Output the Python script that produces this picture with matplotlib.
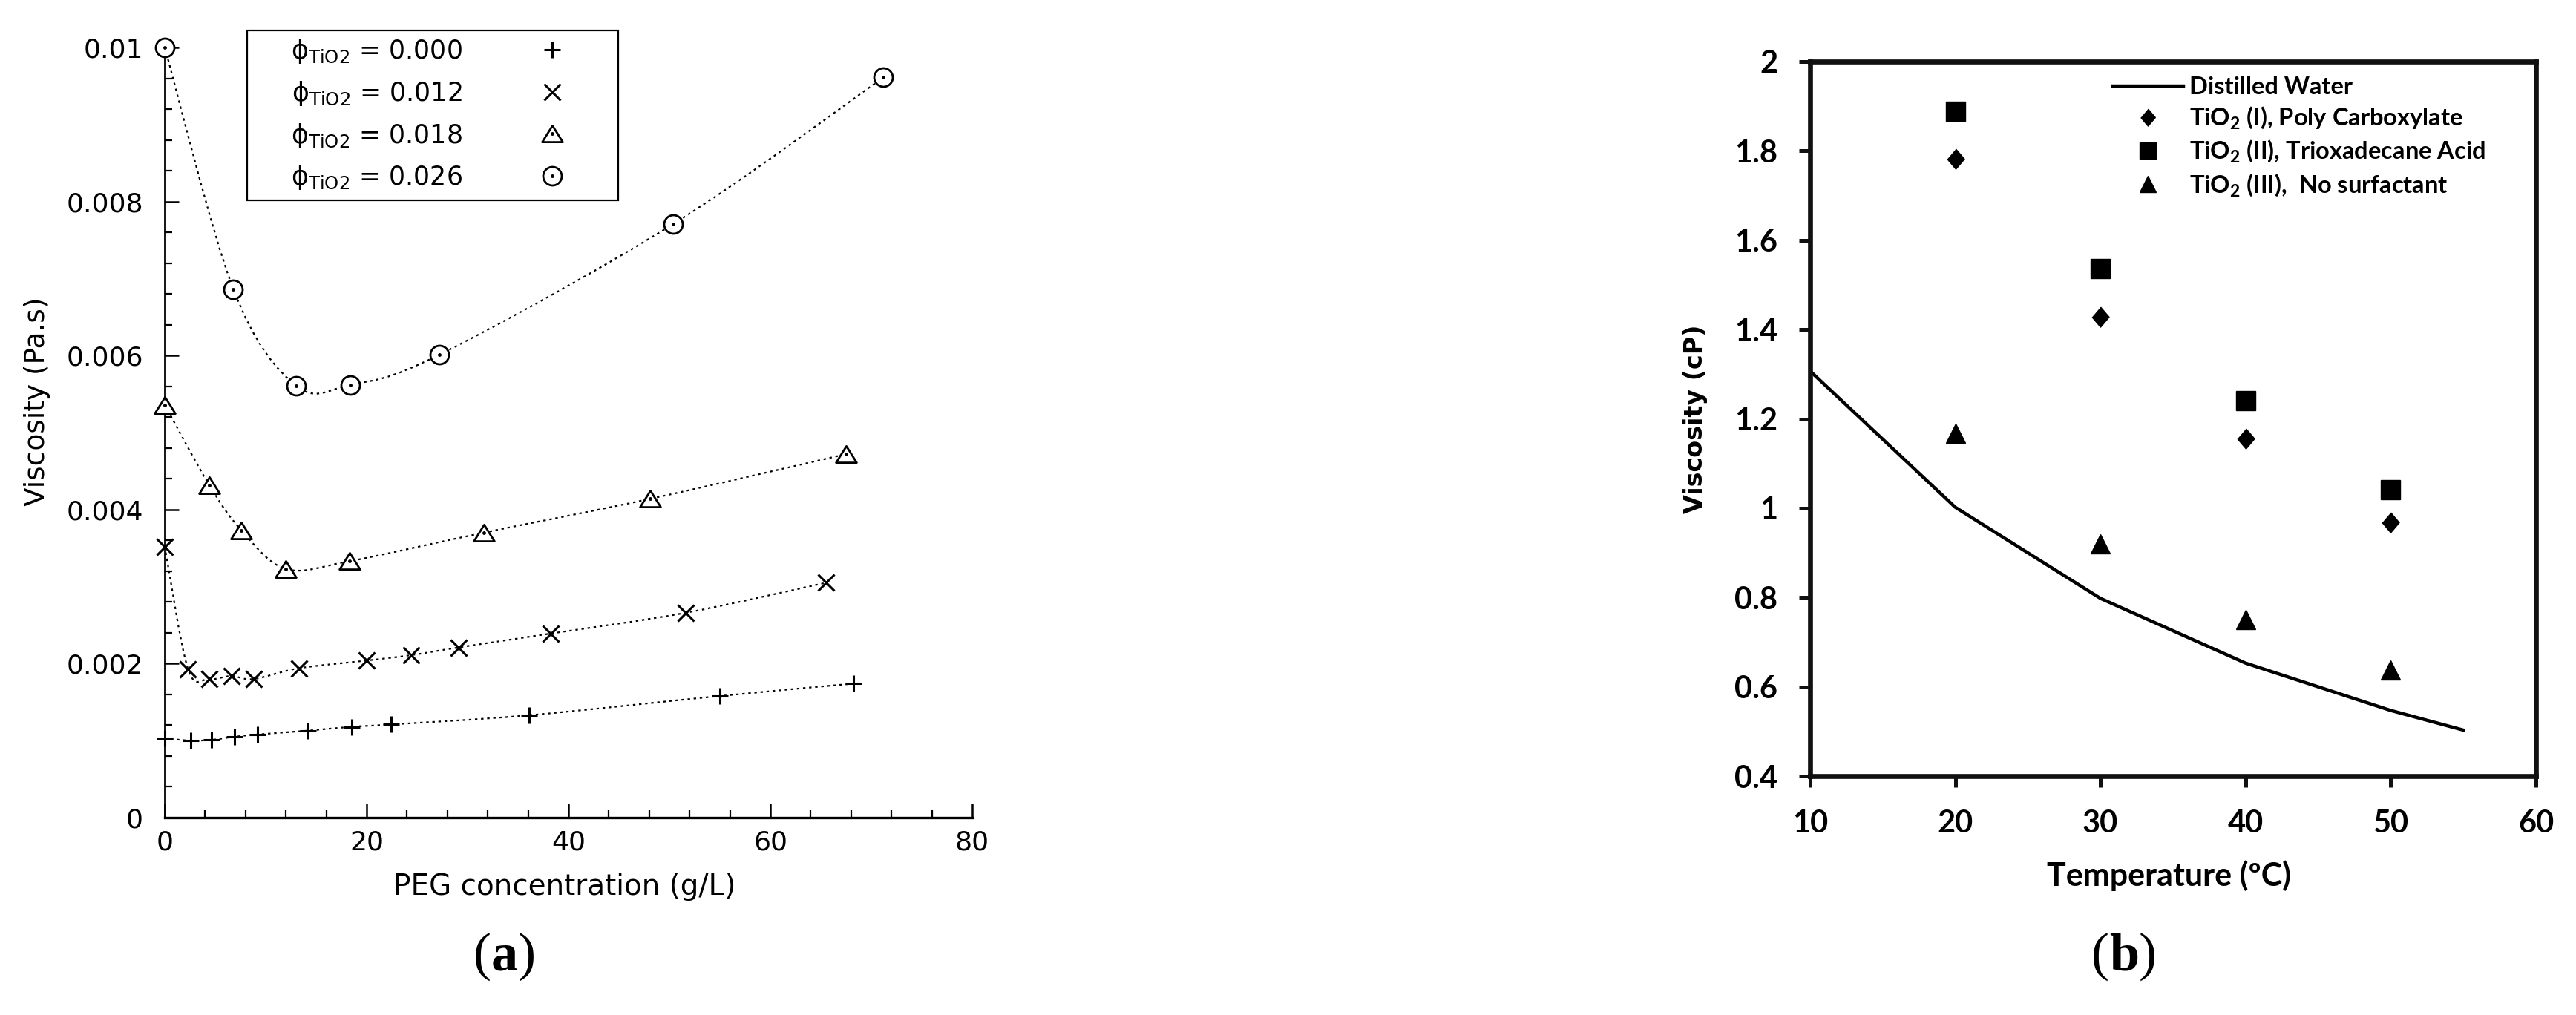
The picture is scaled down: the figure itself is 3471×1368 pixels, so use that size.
import numpy as np
import matplotlib
matplotlib.use('Agg')
import matplotlib.pyplot as plt
from matplotlib.path import Path
from matplotlib.patches import PathPatch, Rectangle
from matplotlib.ticker import MultipleLocator, FuncFormatter
from matplotlib.legend_handler import HandlerTuple

# ---- panel (a): viscosity vs PEG concentration (values in Pa.s)
peg_000 = [0, 2.6, 4.6, 6.9, 9.2, 14.2, 18.5, 22.4, 36.1, 55.0, 68.2]
visc_000 = [0.00103, 0.00100, 0.00101, 0.00105, 0.00108, 0.00113, 0.00118,
            0.00121, 0.00133, 0.00158, 0.00174]
peg_012 = [0, 2.3, 4.4, 6.6, 8.8, 13.3, 20.0, 24.4, 29.1, 38.2, 51.6, 65.5]
visc_012 = [0.00352, 0.00193, 0.00180, 0.00184, 0.00180, 0.00194, 0.00204,
            0.00211, 0.00221, 0.00239, 0.00266, 0.00305]
peg_018 = [0, 4.4, 7.6, 12.0, 18.3, 31.6, 48.1, 67.5]
visc_018 = [0.00536, 0.00432, 0.00373, 0.00323, 0.00333, 0.00370, 0.00414, 0.00472]
peg_026 = [0, 6.8, 13.0, 18.4, 27.2, 50.4, 71.2]
visc_026 = [0.0100, 0.00686, 0.00561, 0.00562, 0.00601, 0.00771, 0.00961]
labels_a = ['0.000', '0.012', '0.018', '0.026']

# ---- panel (b): viscosity vs temperature (cP)
temp_water = [10, 20, 30, 40, 50, 55]
visc_water = [1.307, 1.002, 0.798, 0.653, 0.547, 0.503]
temp_np = [20, 30, 40, 50]
visc_pc = [1.783, 1.428, 1.156, 0.968]
visc_ta = [1.889, 1.536, 1.241, 1.041]
visc_ns = [1.167, 0.920, 0.751, 0.637]

plt.rcParams['font.family'] = 'DejaVu Sans'

W, H = 3471, 1368
fig = plt.figure(figsize=(W / 100, H / 100), dpi=100)


def smooth_path(x, y):
    # Catmull-Rom curve through the points, as cubic Bezier segments
    pts = np.column_stack([x, y])
    verts = [pts[0]]
    codes = [Path.MOVETO]
    n = len(pts)
    for i in range(n - 1):
        p0 = pts[i - 1] if i > 0 else pts[i]
        p1 = pts[i]
        p2 = pts[i + 1]
        p3 = pts[i + 2] if i + 2 < n else pts[i + 1]
        verts += [p1 + (p2 - p0) / 6, p2 - (p3 - p1) / 6, p2]
        codes += [Path.CURVE4] * 3
    return Path(verts, codes)


# ================= panel (a)
ax = fig.add_axes([222 / W, 1 - 1102 / H, 1088 / W, 1038 / H])
tri_open = Path([(-1, -0.8), (1, -0.8), (0, 0.8), (-1, -0.8)], closed=True)

for xs, ys in [(peg_000, visc_000), (peg_012, visc_012),
               (peg_018, visc_018), (peg_026, visc_026)]:
    ax.add_patch(PathPatch(smooth_path(xs, ys), fill=False, color='black',
                           lw=1.6, linestyle=(0, (1.5, 2.2)), zorder=1))

p_plus, = ax.plot(peg_000, visc_000, ls='none', marker='+', ms=16, mew=2.2,
                  color='black', clip_on=False, zorder=3)
p_x, = ax.plot(peg_012, visc_012, ls='none', marker='x', ms=16, mew=2.2,
               color='black', clip_on=False, zorder=3)
p_tri, = ax.plot(peg_018, visc_018, ls='none', marker=tri_open, ms=20, mew=2.0,
                 mfc='white', color='black', clip_on=False, zorder=3)
d_tri, = ax.plot(peg_018, visc_018, ls='none', marker='o', ms=2.5,
                 color='black', clip_on=False, zorder=4)
p_circ, = ax.plot(peg_026, visc_026, ls='none', marker='o', ms=18, mew=2.0,
                  mfc='white', color='black', clip_on=False, zorder=3)
d_circ, = ax.plot(peg_026, visc_026, ls='none', marker='o', ms=2.5,
                  color='black', clip_on=False, zorder=4)

ax.set_xlim(0, 80)
ax.set_ylim(0, 0.01)
ax.spines['top'].set_visible(False)
ax.spines['right'].set_visible(False)
ax.spines['left'].set_linewidth(2.0)
ax.spines['bottom'].set_linewidth(2.4)
ax.xaxis.set_major_locator(MultipleLocator(20))
ax.xaxis.set_minor_locator(MultipleLocator(4))
ax.yaxis.set_major_locator(MultipleLocator(0.002))
ax.yaxis.set_minor_locator(MultipleLocator(0.0004))
ax.yaxis.set_major_formatter(FuncFormatter(lambda v, p: '%g' % round(v, 4)))
ax.tick_params(which='major', direction='in', length=14, width=1.8, labelsize=26)
ax.tick_params(which='minor', direction='in', length=7, width=1.6)
ax.tick_params(axis='x', which='major', pad=12)
ax.tick_params(axis='y', which='major', pad=21)
ax.set_xlabel('PEG concentration (g/L)', fontsize=28, va='center')
ax.xaxis.set_label_coords(0.4954, -0.0896)
ax.set_ylabel('Viscosity (Pa.s)', fontsize=27, va='center', ha='center')
ax.yaxis.set_label_coords(-0.158, 0.5405)

leg_labels = ['\u03d5$_{\\mathregular{TiO2}}$ = ' + s for s in labels_a]
fig.legend([p_plus, p_x, (p_tri, d_tri), (p_circ, d_circ)], leg_labels,
           loc='upper left', bbox_to_anchor=(392 / W, 1 - 50 / H),
           frameon=False, markerfirst=False, fontsize=25, borderpad=0,
           borderaxespad=0, handlelength=2, handletextpad=2.5,
           labelspacing=0.54, handler_map={tuple: HandlerTuple(ndivide=1)})
fig.add_artist(Rectangle((333 / W, 1 - 270 / H), 500 / W, 229 / H,
                         transform=fig.transFigure, fill=False,
                         edgecolor='black', lw=1.6))

# ================= panel (b)
bx = fig.add_axes([2439 / W, 1 - 1046 / H, 978 / W, 963 / H])
lato = 'Lato'
diamond = [(0, 1), (0.85, 0), (0, -1), (-0.85, 0)]
bx.plot(temp_water, visc_water, color='black', lw=3.2, label='Distilled Water')
bx.plot(temp_np, visc_pc, ls='none', marker=diamond, ms=19.5, color='black',
        label='TiO$_{\\mathregular{2}}$ (I), Poly Carboxylate')
bx.plot(temp_np, visc_ta, ls='none', marker='s', ms=18.5, color='black',
        label='TiO$_{\\mathregular{2}}$ (II), Trioxadecane Acid')
bx.plot(temp_np, visc_ns, ls='none', marker='^', ms=19, color='black',
        label='TiO$_{\\mathregular{2}}$ (III),  No surfactant')

bx.set_xlim(10, 60)
bx.set_ylim(0.4, 2.0)
for s in bx.spines.values():
    s.set_linewidth(4.8)
    s.set_color('#111111')
bx.xaxis.set_major_locator(MultipleLocator(10))
bx.yaxis.set_major_locator(MultipleLocator(0.2))
bx.yaxis.set_major_formatter(FuncFormatter(lambda v, p: '%g' % round(v, 2)))
bx.tick_params(direction='out', length=10.5, width=3.6, color='#111111')
bx.tick_params(axis='y', pad=21)
bx.tick_params(axis='x', pad=22)
for t in bx.get_xticklabels() + bx.get_yticklabels():
    t.set_fontfamily(lato)
    t.set_fontweight('bold')
    t.set_fontsize(30)
bx.set_xlabel('Temperature (\u00baC)', fontsize=31, fontweight='bold',
              family=lato, va='center')
bx.xaxis.set_label_coords(0.494, -0.139)
bx.set_ylabel('Viscosity (cP)', fontsize=24, fontweight='bold', va='center',
              ha='center')
bx.yaxis.set_label_coords(-0.1575, 0.5)
fig.legend(*bx.get_legend_handles_labels(), loc='upper left',
           bbox_to_anchor=(2847 / W, 1 - 103 / H), frameon=False,
           prop={'family': lato, 'weight': 'bold', 'size': 23.5}, borderpad=0,
           borderaxespad=0, handlelength=2.9, handletextpad=0.25,
           labelspacing=0.3, markerscale=0.85)


# ================= panel tags
def panel_tag(x, y, letter):
    t = fig.text(x / W, 1 - y / H, letter, fontsize=52, fontweight='bold',
                 family='Liberation Serif', ha='center', va='center')
    ax.annotate('(', xy=(0, 0), xycoords=t, ha='right', va='bottom',
                fontsize=52, family='Liberation Serif')
    ax.annotate(')', xy=(1, 0), xycoords=t, ha='left', va='bottom',
                fontsize=52, family='Liberation Serif')


panel_tag(680, 1290, 'a')
panel_tag(2862, 1290, 'b')

fig.savefig('out.png', dpi=100)
